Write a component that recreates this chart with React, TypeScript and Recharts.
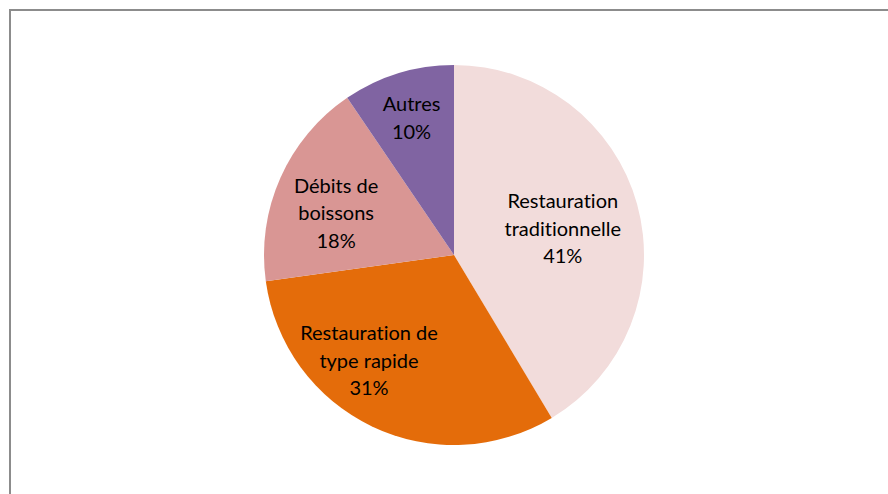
import React from "react";
import { PieChart, Pie, Cell } from "recharts";

const categories = [
  "Restauration traditionnelle",
  "Restauration de type rapide",
  "Débits de boissons",
  "Autres",
];
const values = [41.4, 31.4, 17.7, 9.5];
const percentLabels = ["41%", "31%", "18%", "10%"];
const labelLines = [
  ["Restauration", "traditionnelle"],
  ["Restauration de", "type rapide"],
  ["Débits de", "boissons"],
  ["Autres"],
];

const COLORS = ["#F2DCDB", "#E46C0A", "#D99694", "#8064A2"];
// per-slice label placement: radius fraction and angle delta (deg)
const LABEL_PLACE = [
  { r: 0.59, da: -1.5 },
  { r: 0.71, da: -13.5 },
  { r: 0.66, da: 4 },
  { r: 0.76, da: 0 },
];

const data = categories.map((name, i) => ({
  name,
  value: values[i],
  lines: [...labelLines[i], percentLabels[i]],
}));

const RAD = Math.PI / 180;
const LINE_H = 27.5;

const renderLabel = (props: any) => {
  const { cx, cy, midAngle, outerRadius, index } = props;
  const p = LABEL_PLACE[index];
  const a = (midAngle + p.da) * RAD;
  const x = cx + outerRadius * p.r * Math.cos(a);
  const y = cy - outerRadius * p.r * Math.sin(a);
  const lines: string[] = data[index].lines;
  const n = lines.length;
  return (
    <text
      key={`lbl-${index}`}
      textAnchor="middle"
      dominantBaseline="central"
      fill="#000"
      fontFamily="Lato, 'Noto Sans', sans-serif"
      fontSize={20}
      style={{ fontVariantLigatures: "none" }}
    >
      {lines.map((t, i) => (
        <tspan key={i} x={x} y={y + (i - (n - 1) / 2) * LINE_H}>
          {t}
        </tspan>
      ))}
    </text>
  );
};

export default function App() {
  return (
    <div
      style={{
        position: "absolute",
        left: 0,
        top: 0,
        width: 888,
        height: 494,
        overflow: "hidden",
        background: "#fff",
      }}
    >
      <div
        style={{
          position: "absolute",
          left: 9,
          top: 9,
          width: 920,
          height: 520,
          borderLeft: "2px solid #8c8c8c",
          borderTop: "2px solid #8c8c8c",
        }}
      />
      <div style={{ position: "absolute", left: 0, top: 0 }}>
        <PieChart
          width={888}
          height={494}
          margin={{ top: 0, right: 0, bottom: 0, left: 0 }}
        >
          <Pie
            data={data}
            dataKey="value"
            nameKey="name"
            cx={454}
            cy={255}
            outerRadius={190}
            startAngle={90}
            endAngle={-270}
            stroke="none"
            label={renderLabel}
            labelLine={false}
            isAnimationActive={false}
          >
            {data.map((d, i) => (
              <Cell key={d.name} fill={COLORS[i]} />
            ))}
          </Pie>
        </PieChart>
      </div>
    </div>
  );
}
